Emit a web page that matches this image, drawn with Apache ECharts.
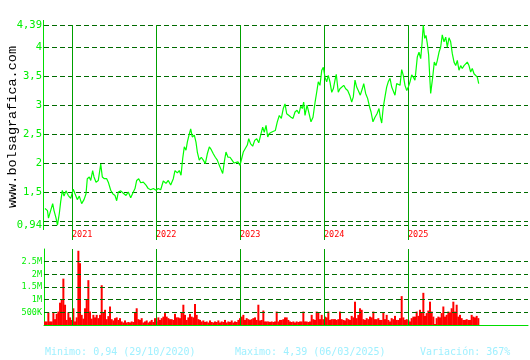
<!DOCTYPE html>
<html><head><meta charset="utf-8">
<script src="https://cdn.jsdelivr.net/npm/echarts@6/dist/echarts.min.js"></script>
<style>html,body{margin:0;padding:0;background:#fff}#c{width:530px;height:360px}</style>
</head><body><div id="c"></div>
<script>
// ---- data (time in decimal years) ----
const priceT = [2020.679,2020.708,2020.720,2020.738,2020.770,2020.786,2020.810,2020.827,2020.849,2020.865,2020.885,2020.905,2020.929,2020.956,2020.985,2021.015,2021.036,2021.063,2021.087,2021.115,2021.143,2021.167,2021.182,2021.206,2021.223,2021.246,2021.262,2021.286,2021.313,2021.342,2021.361,2021.385,2021.413,2021.432,2021.461,2021.485,2021.512,2021.532,2021.551,2021.580,2021.611,2021.643,2021.670,2021.699,2021.730,2021.750,2021.770,2021.794,2021.818,2021.849,2021.881,2021.908,2021.937,2021.968,2022.000,2022.027,2022.056,2022.087,2022.119,2022.146,2022.175,2022.206,2022.226,2022.254,2022.277,2022.298,2022.318,2022.337,2022.357,2022.373,2022.393,2022.413,2022.432,2022.456,2022.476,2022.492,2022.515,2022.539,2022.563,2022.587,2022.611,2022.635,2022.658,2022.682,2022.706,2022.730,2022.754,2022.777,2022.794,2022.813,2022.833,2022.857,2022.881,2022.905,2022.929,2022.952,2022.976,2023.000,2023.024,2023.039,2023.063,2023.087,2023.104,2023.127,2023.151,2023.175,2023.199,2023.223,2023.246,2023.270,2023.289,2023.310,2023.330,2023.349,2023.373,2023.396,2023.420,2023.444,2023.468,2023.492,2023.515,2023.536,2023.556,2023.583,2023.607,2023.631,2023.655,2023.679,2023.702,2023.723,2023.742,2023.758,2023.774,2023.798,2023.821,2023.845,2023.869,2023.893,2023.913,2023.932,2023.952,2023.973,2023.992,2024.012,2024.032,2024.051,2024.071,2024.092,2024.111,2024.131,2024.146,2024.170,2024.190,2024.211,2024.235,2024.258,2024.282,2024.306,2024.330,2024.349,2024.369,2024.389,2024.408,2024.432,2024.456,2024.473,2024.496,2024.520,2024.544,2024.560,2024.583,2024.607,2024.631,2024.655,2024.670,2024.687,2024.706,2024.726,2024.746,2024.765,2024.786,2024.806,2024.825,2024.845,2024.865,2024.885,2024.905,2024.925,2024.944,2024.964,2024.985,2025.004,2025.024,2025.044,2025.063,2025.083,2025.095,2025.111,2025.131,2025.151,2025.167,2025.182,2025.199,2025.214,2025.230,2025.246,2025.262,2025.270,2025.282,2025.294,2025.313,2025.333,2025.349,2025.369,2025.389,2025.408,2025.429,2025.449,2025.468,2025.488,2025.508,2025.527,2025.548,2025.568,2025.587,2025.607,2025.627,2025.646,2025.667,2025.687,2025.706,2025.726,2025.746,2025.765,2025.786,2025.806,2025.825,2025.842];
const priceV = [1.225,1.19,1.06,1.08,1.31,1.19,1.06,0.94,1.14,1.34,1.54,1.44,1.53,1.45,1.40,1.56,1.48,1.38,1.44,1.31,1.38,1.48,1.74,1.77,1.71,1.88,1.77,1.68,1.71,1.99,1.77,1.74,1.74,1.68,1.54,1.48,1.45,1.36,1.51,1.53,1.49,1.45,1.51,1.41,1.51,1.57,1.71,1.74,1.67,1.68,1.63,1.57,1.55,1.57,1.54,1.57,1.55,1.70,1.66,1.71,1.63,1.74,1.88,1.84,1.88,1.80,2.09,2.29,2.23,2.37,2.49,2.60,2.46,2.49,2.37,2.20,2.06,2.11,2.06,2.00,2.17,2.29,2.24,2.17,2.11,2.06,1.97,1.94,1.83,2.03,2.20,2.11,2.11,2.06,2.01,2.00,2.03,1.97,2.11,2.20,2.26,2.32,2.43,2.34,2.30,2.40,2.43,2.36,2.49,2.63,2.54,2.66,2.46,2.52,2.54,2.52,2.57,2.72,2.83,2.78,2.95,3.03,2.86,2.83,2.80,2.78,2.89,2.92,2.86,2.99,2.95,3.06,2.83,3.01,2.87,2.72,2.80,3.05,3.23,3.41,3.35,3.61,3.66,3.49,3.41,3.52,3.41,3.23,3.29,3.44,3.54,3.23,3.29,3.32,3.35,3.29,3.26,3.18,3.06,3.15,3.44,3.32,3.26,3.18,3.29,3.38,3.21,3.12,2.97,2.89,2.72,2.80,2.86,2.95,2.80,2.70,2.98,3.15,3.32,3.41,3.47,3.32,3.29,3.18,3.38,3.41,3.35,3.62,3.52,3.35,3.26,3.32,3.41,3.53,3.49,3.44,3.61,3.84,3.92,3.81,4.07,4.39,4.16,4.21,4.07,3.87,3.41,3.21,3.23,3.49,3.75,3.69,3.78,3.92,4.01,4.22,4.10,4.18,4.01,4.17,4.10,3.90,3.75,3.69,3.78,3.61,3.69,3.64,3.69,3.72,3.75,3.69,3.58,3.64,3.55,3.55,3.49,3.38];

// volume (millions), one bar per period starting at volStart
const volStart = 2020.679;
const volStep = 0.01984;
const volumes = [0.14,0.14,0.50,0.14,0.14,0.50,0.23,0.44,0.53,0.88,1.00,1.83,0.80,0.20,0.50,0.30,0.20,0.66,0.14,0.30,2.93,2.44,0.40,0.25,0.66,1.00,1.77,0.53,0.25,0.40,0.30,0.40,0.27,0.40,1.57,0.50,0.60,0.23,0.35,0.73,0.23,0.18,0.27,0.30,0.20,0.27,0.14,0.10,0.18,0.10,0.12,0.10,0.14,0.12,0.50,0.66,0.23,0.20,0.27,0.10,0.14,0.18,0.10,0.14,0.20,0.12,0.27,0.14,0.30,0.20,0.27,0.33,0.47,0.33,0.27,0.23,0.23,0.20,0.44,0.30,0.30,0.27,0.50,0.80,0.40,0.20,0.30,0.44,0.33,0.30,0.83,0.40,0.23,0.20,0.14,0.18,0.12,0.14,0.10,0.18,0.12,0.10,0.14,0.12,0.18,0.10,0.14,0.12,0.20,0.10,0.14,0.12,0.18,0.10,0.14,0.12,0.20,0.27,0.33,0.40,0.20,0.27,0.23,0.20,0.23,0.27,0.30,0.20,0.80,0.18,0.20,0.57,
0.14,0.14,0.14,0.12,0.14,0.12,0.14,0.53,0.14,0.20,0.20,0.23,0.30,0.30,0.20,0.14,0.12,0.14,0.10,0.14,0.12,0.14,0.14,0.53,0.14,0.14,0.12,0.14,0.40,0.23,0.20,0.53,0.50,0.23,0.40,0.23,0.33,0.30,0.53,0.20,0.23,0.23,0.23,0.20,0.23,0.53,0.23,0.20,0.18,0.27,0.23,0.20,0.36,0.30,0.92,0.27,0.40,0.66,0.60,0.23,0.20,0.27,0.23,0.33,0.30,0.53,0.23,0.23,0.27,0.20,0.20,0.50,0.23,0.40,0.20,0.14,0.27,0.23,0.36,0.20,0.20,0.27,1.14,0.30,0.20,0.23,0.20,0.14,0.27,0.33,0.33,0.53,0.36,0.60,0.50,1.27,0.36,0.47,0.57,0.92,0.53,0.33,0.04,0.27,0.33,0.30,0.47,0.73,0.33,0.40,0.53,0.50,0.66,0.92,0.53,0.80,0.33,0.40,0.27,0.20,0.20,0.23,0.20,0.20,0.40,0.33,0.30,0.36,0.27];

const years = [2021, 2022, 2023, 2024, 2025];
const priceTicks = [0.94, 1.5, 2, 2.5, 3, 3.5, 4, 4.39];
const priceGrid = [0.94, 1, 1.5, 2, 2.5, 3, 3.5, 4, 4.39];
const volGrid = [500000, 1000000, 1500000, 2000000, 2500000];
const footer = ['Minimo: 0,94 (29/10/2020)', 'Maximo: 4,39 (06/03/2025)', 'Variación: 367%'];

// ---- build ----
const n = Math.min(priceT.length, priceV.length);
const priceData = [];
for (let i = 0; i < n; i++) priceData.push([priceT[i], priceV[i]]);
const volData = volumes.map((v, i) => [volStart + i * volStep, v * 1e6]);

const XMIN = 2020.6667, XMAX = 2026.4286;
const dash = { color: '#006a00', width: 1, type: [5, 3] };
const yearLine = { color: '#00a000', width: 1, type: 'solid' };
const mono = 'DejaVu Sans Mono';

const chart = echarts.init(document.getElementById('c'), null, { renderer: 'canvas' });
chart.setOption({
  backgroundColor: '#ffffff',
  animation: false,
  grid: [
    { left: 44, right: 2, top: 25, height: 215 },
    { left: 44, right: 2, top: 249, height: 76 }
  ],
  xAxis: [
    { type: 'value', gridIndex: 0, min: XMIN, max: XMAX,
      axisLine: { show: false }, axisTick: { show: false }, splitLine: { show: false },
      axisLabel: { show: true, customValues: years, inside: true, margin: 1, align: 'left',
        color: '#ff0000', fontFamily: mono, fontSize: 8.5, formatter: v => String(v) } },
    { type: 'value', gridIndex: 1, min: XMIN, max: XMAX,
      axisLine: { show: true, lineStyle: { color: '#00dd00', width: 1 } },
      axisTick: { show: false }, splitLine: { show: false }, axisLabel: { show: false } }
  ],
  yAxis: [
    { type: 'value', gridIndex: 0, min: 0.683, max: 4.39,
      axisLine: { show: false }, axisTick: { show: false }, splitLine: { show: false },
      axisLabel: { customValues: priceTicks, margin: 2, color: '#00ee00', fontFamily: mono, fontSize: 10.5,
        formatter: v => String(v).replace('.', ',') } },
    { type: 'value', gridIndex: 1, min: 0, max: 3000000, interval: 500000,
      axisLine: { show: true, lineStyle: { color: '#00dd00', width: 1 } },
      axisTick: { show: false }, splitLine: { show: false },
      axisLabel: { margin: 2, color: '#00ee00', fontFamily: mono, fontSize: 8.5,
        formatter: v => (v <= 0 || v >= 3000000) ? '' : (v >= 1000000 ? (v / 1e6) + 'M' : (v / 1e3) + 'K') } }
  ],
  series: [
    { type: 'line', xAxisIndex: 0, yAxisIndex: 0, data: priceData, showSymbol: false, z: 5,
      lineStyle: { color: '#00ff00', width: 1.2 }, silent: true,
      markLine: { symbol: 'none', silent: true, label: { show: false }, animation: false,
        data: priceGrid.map(v => ({ yAxis: v, lineStyle: dash }))
          .concat(years.map(y => ({ xAxis: y, lineStyle: yearLine }))) } },
    { type: 'bar', xAxisIndex: 1, yAxisIndex: 1, data: volData, barWidth: 2, silent: true,
      itemStyle: { color: '#ff0000' },
      markLine: { symbol: 'none', silent: true, label: { show: false }, animation: false,
        data: volGrid.map(v => ({ yAxis: v, lineStyle: dash }))
          .concat(years.map(y => ({ xAxis: y, lineStyle: yearLine }))) } }
  ],
  graphic: [
    { type: 'line', shape: { x1: 43.5, y1: 20, x2: 43.5, y2: 230 }, style: { stroke: '#00dd00', lineWidth: 1 } },
    { type: 'text', x: 12, y: 127, rotation: Math.PI / 2,
      style: { text: 'www.bolsagrafica.com', x: 0, y: 0, align: 'center', verticalAlign: 'middle',
        font: '13.5px "Liberation Mono"', fill: '#000000' } },
    { type: 'text', x: 45, y: 352, style: { text: footer[0], align: 'left', verticalAlign: 'middle', font: '10px "DejaVu Sans Mono"', fill: '#a0f0ff' } },
    { type: 'text', x: 235, y: 352, style: { text: footer[1], align: 'left', verticalAlign: 'middle', font: '10px "DejaVu Sans Mono"', fill: '#a0f0ff' } },
    { type: 'text', x: 420, y: 352, style: { text: footer[2], align: 'left', verticalAlign: 'middle', font: '10px "DejaVu Sans Mono"', fill: '#a0f0ff' } }
  ]
});
</script></body></html>
